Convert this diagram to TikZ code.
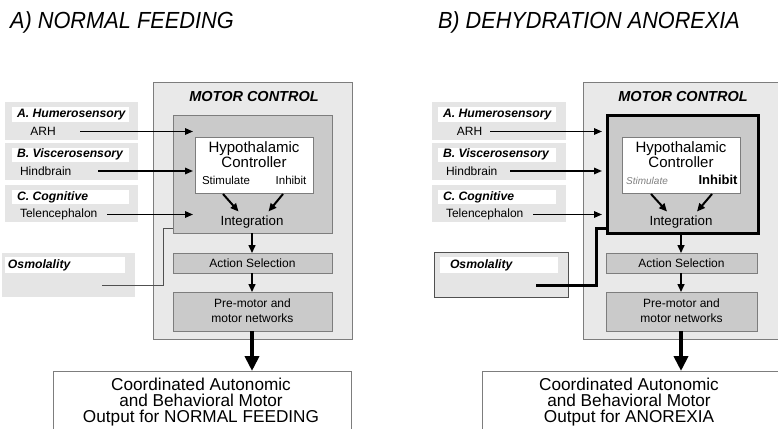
\documentclass[tikz,border=0pt]{standalone}
\usepackage{fontspec}
\setmainfont{Liberation Sans}
\usepackage{graphicx}
\usetikzlibrary{arrows.meta}
\definecolor{outerfill}{RGB}{233,233,233}
\definecolor{innerfill}{RGB}{202,202,202}
\definecolor{inputfill}{RGB}{229,229,229}
\definecolor{edgegray}{RGB}{125,125,125}
\definecolor{linegray}{RGB}{80,80,80}
\newcommand\ftwelve{\fontsize{12}{15}\selectfont}
\newcommand\fhyp{\fontsize{15}{12.8}\selectfont}
\newcommand\fmc{\fontsize{14.5}{16}\selectfont\bfseries\itshape}
\newcommand\flab{\fontsize{12.2}{14}\selectfont\bfseries\itshape}
\newcommand\fout{\fontsize{17.2}{16}\selectfont}
\newcommand\ftitle{\fontsize{23.3}{25}\selectfont\itshape}
\begin{document}
\begin{tikzpicture}[x=1pt,y=-1pt,
  rbox/.style={inner sep=0pt, outer sep=0pt, anchor=north west},
  outerbox/.style={rbox, draw=edgegray, line width=0.9pt, fill=outerfill},
  innerbox/.style={rbox, draw=edgegray, line width=0.9pt, fill=innerfill},
  whitebox/.style={rbox, draw=edgegray, line width=0.9pt, fill=white},
  inbox/.style={rbox, fill=inputfill},
  labbox/.style={rbox, fill=white},
  tx/.style={inner sep=0pt, outer sep=0pt, anchor=base},
  txl/.style={inner sep=0pt, outer sep=0pt, anchor=base west},
  ml/.style={inner sep=0pt, outer sep=0pt, anchor=base, align=center},
  arr/.style={line width=1.5pt, -{Triangle[length=8pt,width=6.5pt]}},
  carr/.style={line width=2pt, -{Triangle[length=8pt,width=7pt]}},
  darr/.style={line width=1.5pt, -{Triangle[length=8pt,width=7pt]}},
  bigarr/.style={line width=4pt, -{Triangle[length=15pt,width=14pt]}},
]
\useasboundingbox (0,0) rectangle (778,428);
\clip (0,0) rectangle (778,428);
\fill[white] (0,0) rectangle (778,428);

% ---------------- titles
\node[txl] (titleA) at (10,28.3) {\ftitle\scalebox{0.935}[1]{A) NORMAL FEEDING}};
\node[txl] (titleB) at (438,28.3) {\ftitle\scalebox{0.93}[1]{B) DEHYDRATION ANOREXIA}};

% ================= LEFT PANEL
\node[inbox, minimum width=133pt, minimum height=38pt] (inAL) at (5,102) {};
\node[labbox, minimum width=117pt, minimum height=15pt] (labAL) at (12,107) {};
\node[txl] (tAL) at (17,117.3) {\flab A. Humerosensory};
\node[tx] (arhL) at (43,135.7) {\ftwelve ARH};
\node[inbox, minimum width=133pt, minimum height=37pt] (inBL) at (5,143) {};
\node[labbox, minimum width=117pt, minimum height=14pt] (labBL) at (12,148) {};
\node[txl] (tBL) at (17,157.7) {\flab B. Viscerosensory};
\node[txl] (hindL) at (20,175) {\ftwelve Hindbrain};
\node[inbox, minimum width=133pt, minimum height=37pt] (inCL) at (5,185) {};
\node[labbox, minimum width=117pt, minimum height=14pt] (labCL) at (12,190) {};
\node[txl] (tCL) at (17,200) {\flab C. Cognitive};
\node[txl] (telL) at (20,217.7) {\ftwelve Telencephalon};
\node[inbox, minimum width=133pt, minimum height=44pt] (inOL) at (2,253) {};
\node[labbox, minimum width=120pt, minimum height=16pt] (labOL) at (5,257) {};
\node[txl] (tOL) at (8,268.3) {\flab Osmolality};

\node[outerbox, minimum width=199pt, minimum height=257pt] (outerL) at (153,82) {};
\node[tx] (mcL) at (254,101.5) {\fmc MOTOR CONTROL};
\node[innerbox, minimum width=159pt, minimum height=118pt] (innerL) at (173,115) {};
\node[whitebox, minimum width=118pt, minimum height=56pt] (hypL) at (195,137) {};
\node[ml, font=\fhyp] (hypTL) at (254,167.8) {Hypothalamic\\Controller};
\node[tx] (stimL) at (226,184.8) {\fontsize{11.5}{13}\selectfont Stimulate};
\node[tx] (inhL) at (291,184.8) {\fontsize{11.5}{13}\selectfont Inhibit};
\node[tx] (intL) at (252,225.7) {\fontsize{13.3}{15}\selectfont Integration};
\node[innerbox, minimum width=159pt, minimum height=20pt] (actL) at (173,253) {};
\node[tx] (actTL) at (252.5,267.3) {\ftwelve Action Selection};
\node[innerbox, minimum width=159pt, minimum height=39pt] (preL) at (173,292) {};
\node[ml, font=\ftwelve] (preTL) at (252.5,322.7) {Pre-motor and\\motor networks};
\node[whitebox, minimum width=298pt, minimum height=80pt] (outL) at (53,371) {};
\node[ml, font=\fout] (oTL) at (201,422.7) {Coordinated Autonomic\\and Behavioral Motor\\Output for NORMAL FEEDING};

\coordinate (aSL) at (80,131.5);  \coordinate (aEL) at (193,131.5);
\coordinate (bSL) at (98,171);    \coordinate (bEL) at (193,171);
\coordinate (cSL) at (107,214.5); \coordinate (cEL) at (193,214.5);
\draw[arr] (aSL) -- (aEL);
\draw[arr] (bSL) -- (bEL);
\draw[arr] (cSL) -- (cEL);
\coordinate (s1L) at (223,194); \coordinate (s2L) at (238.5,211.5);
\coordinate (i1L) at (283,194); \coordinate (i2L) at (268.5,211.5);
\draw[carr] (s1L) -- (s2L);
\draw[carr] (i1L) -- (i2L);
\draw[darr] (innerL.south -| intL) -- (actL.north -| intL);
\draw[darr] (actL.south -| intL) -- (preL.north -| intL);
\draw[bigarr] (preL.south -| intL) -- (outL.north -| intL);
\coordinate (osL) at (102,285.5);
\draw[linegray, line width=0.9pt] (osL) -| (163,228.5) -- (innerL.west |- 0,228.5);

% ================= RIGHT PANEL
\node[inbox, minimum width=134pt, minimum height=38pt] (inAR) at (432,102) {};
\node[labbox, minimum width=118pt, minimum height=15pt] (labAR) at (438,107) {};
\node[txl] (tAR) at (443,117.3) {\flab A. Humerosensory};
\node[tx] (arhR) at (469.5,135.7) {\ftwelve ARH};
\node[inbox, minimum width=134pt, minimum height=37pt] (inBR) at (432,143) {};
\node[labbox, minimum width=118pt, minimum height=14pt] (labBR) at (438,148) {};
\node[txl] (tBR) at (443,157.7) {\flab B. Viscerosensory};
\node[txl] (hindR) at (446,175) {\ftwelve Hindbrain};
\node[inbox, minimum width=134pt, minimum height=37pt] (inCR) at (432,185) {};
\node[labbox, minimum width=118pt, minimum height=14pt] (labCR) at (438,190) {};
\node[txl] (tCR) at (443,200) {\flab C. Cognitive};
\node[txl] (telR) at (446,217.7) {\ftwelve Telencephalon};
\node[rbox, draw=linegray, line width=1pt, fill=inputfill, minimum width=134pt, minimum height=45pt] (inOR) at (434,252) {};
\node[labbox, minimum width=118pt, minimum height=16pt] (labOR) at (440,257) {};
\node[txl] (tOR) at (450,268.3) {\flab Osmolality};

\node[outerbox, minimum width=199pt, minimum height=257pt] (outerR) at (583,82) {};
\node[tx] (mcR) at (683,101.5) {\fmc MOTOR CONTROL};
\node[innerbox, draw=black, line width=3pt, minimum width=151pt, minimum height=118pt] (innerR) at (607,115) {};
\node[whitebox, minimum width=118pt, minimum height=56pt] (hypR) at (622,137) {};
\node[ml, font=\fhyp] (hypTR) at (681,167.8) {Hypothalamic\\Controller};
\node[tx] (stimR) at (647,184.8) {\fontsize{10}{12}\selectfont\itshape\color{gray} Stimulate};
\node[tx] (inhR) at (718,184.8) {\fontsize{13}{15}\selectfont\bfseries Inhibit};
\node[tx] (intR) at (681,225.7) {\fontsize{13.3}{15}\selectfont Integration};
\node[innerbox, minimum width=151pt, minimum height=20pt] (actR) at (606,253) {};
\node[tx] (actTR) at (681.5,267.3) {\ftwelve Action Selection};
\node[innerbox, minimum width=151pt, minimum height=39pt] (preR) at (606,292) {};
\node[ml, font=\ftwelve] (preTR) at (681.5,322.7) {Pre-motor and\\motor networks};
\node[whitebox, minimum width=298pt, minimum height=80pt] (outR) at (482,371) {};
\node[ml, font=\fout] (oTR) at (629,422.7) {Coordinated Autonomic\\and Behavioral Motor\\Output for ANOREXIA};

\coordinate (aSR) at (490,131.5);  \coordinate (aER) at (602,131.5);
\coordinate (bSR) at (510,171);    \coordinate (bER) at (602,171);
\coordinate (cSR) at (533,214.5);  \coordinate (cER) at (602,214.5);
\draw[arr] (aSR) -- (aER);
\draw[arr] (bSR) -- (bER);
\draw[arr] (cSR) -- (cER);
\coordinate (s1R) at (651,194); \coordinate (s2R) at (667,211.5);
\coordinate (i1R) at (712,194); \coordinate (i2R) at (697,211.5);
\draw[carr] (s1R) -- (s2R);
\draw[carr] (i1R) -- (i2R);
\draw[darr] (innerR.south -| intR) -- (actR.north -| intR);
\draw[darr] (actR.south -| intR) -- (preR.north -| intR);
\draw[bigarr] (preR.south -| intR) -- (outR.north -| intR);
\coordinate (osR) at (536,285.5);
\draw[black, line width=3pt] (osR) -| (596,228.5) -- (innerR.west |- 0,228.5);
\end{tikzpicture}
\end{document}
